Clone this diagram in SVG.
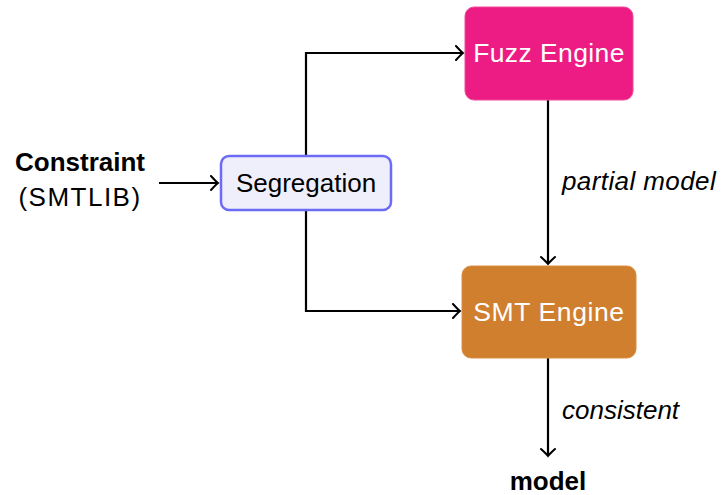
<svg xmlns="http://www.w3.org/2000/svg" width="725" height="495" viewBox="0 0 725 495">
  <defs>
    <marker id="to" viewBox="-9 -8 11 16" markerWidth="11" markerHeight="16" refX="0" refY="0" orient="auto" markerUnits="userSpaceOnUse">
      <path d="M -7 -7 Q -2 -1.5 0 0 Q -2 1.5 -7 7" fill="none" stroke="#000" stroke-width="2" stroke-linecap="round"/>
    </marker>
  </defs>
  <style>
    text { font-family: "Liberation Sans", "DejaVu Sans", sans-serif; }
    .lbl { font-size: 26px; fill: #000; }
    .white { font-size: 26.5px; fill: #fff; }
    .it { font-size: 26px; font-style: italic; fill: #000; }
    .b { font-weight: bold; }
    .wire { fill: none; stroke: #000; stroke-width: 2.2; marker-end: url(#to); }
  </style>
  <rect width="725" height="495" fill="#fff"/>

  <g id="connectors">
    <path class="wire" d="M 159 183 H 218"/>
    <path class="wire" d="M 306 156 V 53 H 463"/>
    <path class="wire" d="M 306 210 V 311 H 460"/>
    <path class="wire" d="M 548 100 V 264"/>
    <path class="wire" d="M 548 358 V 456"/>
  </g>

  <g id="constraint">
    <text class="lbl b" x="80" y="171" text-anchor="middle" font-size="27">Constraint</text>
    <text class="lbl" x="80" y="206" text-anchor="middle" letter-spacing="1.5">(SMTLIB)</text>
  </g>

  <g id="segregation">
    <rect x="221" y="156" width="170" height="54" rx="8" fill="#EFEFFB" stroke="#6B6BF5" stroke-width="2.5"/>
    <text class="lbl" x="306" y="192" text-anchor="middle" font-size="27.5">Segregation</text>
  </g>

  <g id="fuzz-engine">
    <rect x="465" y="7" width="168" height="93" rx="9" fill="#EC1C84" stroke="#F04A9A" stroke-width="1"/>
    <text class="white" x="549" y="62" text-anchor="middle" letter-spacing="0.4">Fuzz Engine</text>
  </g>

  <g id="smt-engine">
    <rect x="462" y="266" width="174" height="92" rx="9" fill="#D07F2F" stroke="#D98E45" stroke-width="1"/>
    <text class="white" x="549" y="321" text-anchor="middle" letter-spacing="0.6">SMT Engine</text>
  </g>

  <g id="edge-labels">
    <text class="it" x="562" y="190" letter-spacing="0.4">partial model</text>
    <text class="it" x="562" y="419">consistent</text>
  </g>

  <g id="model">
    <text class="lbl b" x="548" y="490" text-anchor="middle" font-size="27">model</text>
  </g>
</svg>
